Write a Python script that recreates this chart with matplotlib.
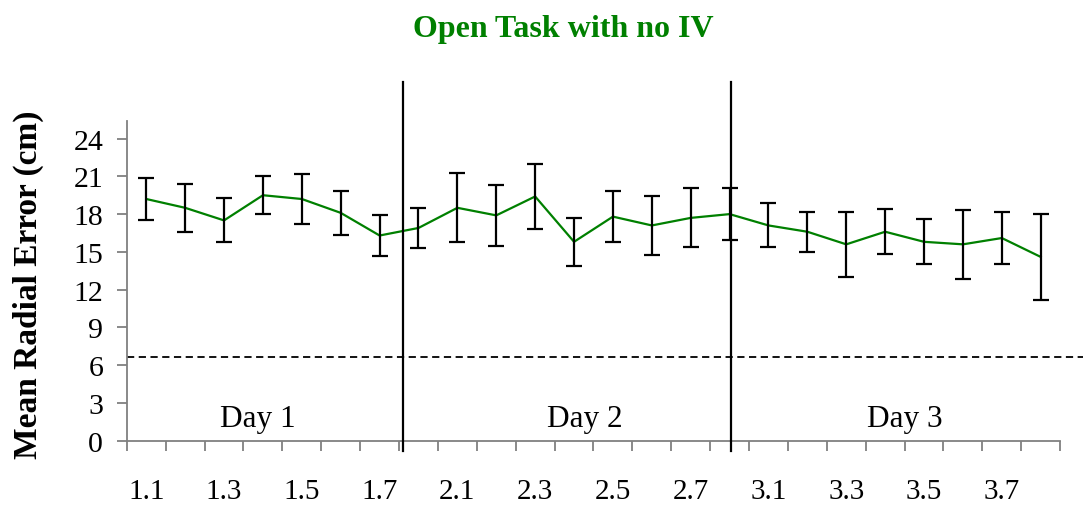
import numpy as np
import matplotlib
matplotlib.use('Agg')
import matplotlib.pyplot as plt

plt.rcParams['font.family'] = ['Liberation Serif', 'DejaVu Serif']

# sessions (category labels) and measured mean radial error with error bars
sessions = ['1.1', '1.2', '1.3', '1.4', '1.5', '1.6', '1.7', '1.8',
            '2.1', '2.2', '2.3', '2.4', '2.5', '2.6', '2.7', '2.8',
            '3.1', '3.2', '3.3', '3.4', '3.5', '3.6', '3.7', '3.8']
mean_error = [19.2, 18.5, 17.5, 19.5, 19.2, 18.1, 16.3, 16.9,
              18.5, 17.9, 19.4, 15.8, 17.8, 17.1, 17.7, 18.0,
              17.1, 16.6, 15.6, 16.6, 15.8, 15.6, 16.1, 14.6]
error_bar = [1.65, 1.9, 1.75, 1.5, 1.95, 1.75, 1.6, 1.6,
             2.75, 2.45, 2.6, 1.9, 2.05, 2.35, 2.35, 2.05,
             1.75, 1.6, 2.6, 1.8, 1.8, 2.75, 2.05, 3.4]
chance_level = 6.63
day_labels = ['Day 1', 'Day 2', 'Day 3']
day_label_x = [2.87, 11.28, 19.5]
day_dividers = [6.6, 15.04]

fig = plt.figure(figsize=(10.84, 5.06), dpi=100)
ax = fig.add_axes([0.117, 0.127, 0.861, 0.632])

x = np.arange(len(sessions))
ax.plot(x, mean_error, color='#008000', lw=1.6, zorder=3)
ax.errorbar(x, mean_error, yerr=error_bar, fmt='none', ecolor='black',
            elinewidth=1.6, capsize=5.5, capthick=1.6, zorder=4)

# chance line runs slightly past the right end of the axis
ax.plot([-0.5, 24.1], [chance_level, chance_level], color='black', lw=1.3,
        ls=(0, (4, 2.5)), clip_on=False, zorder=2)

for d in day_dividers:
    ax.plot([d, d], [-0.8, 28.5], color='black', lw=1.6, clip_on=False, zorder=5)

for lab, lx in zip(day_labels, day_label_x):
    ax.text(lx, 1.75, lab, ha='center', va='center', fontsize=22.5)

ax.set_xlim(-0.5, 23.5)
ax.set_ylim(0, 25.4)
ax.set_yticks(np.arange(0, 25, 3))
ax.set_xticks(np.arange(-0.5, 24, 1))
ax.set_xticklabels([])
ax.set_xticks(x[::2], minor=True)
ax.set_xticklabels(sessions[::2], minor=True)
ax.tick_params(axis='x', which='minor', length=0, pad=27, labelsize=21)
ax.tick_params(axis='x', which='major', direction='out', length=7, width=1.3,
               color='#808080')
ax.tick_params(axis='y', direction='out', length=7, width=1.3, color='#808080',
               labelsize=21.5, pad=10)

for side in ['top', 'right']:
    ax.spines[side].set_visible(False)
for side in ['left', 'bottom']:
    ax.spines[side].set_color('#808080')
    ax.spines[side].set_linewidth(1.3)

ax.set_ylabel('Mean Radial Error (cm)', fontsize=24, fontweight='bold', va='center')
ax.yaxis.set_label_coords(-0.106, 0.49)
fig.text(0.52, 0.942, 'Open Task with no IV', ha='center', va='center',
         fontsize=23, fontweight='bold', color='#008000')

fig.savefig('out.png', dpi=100)
